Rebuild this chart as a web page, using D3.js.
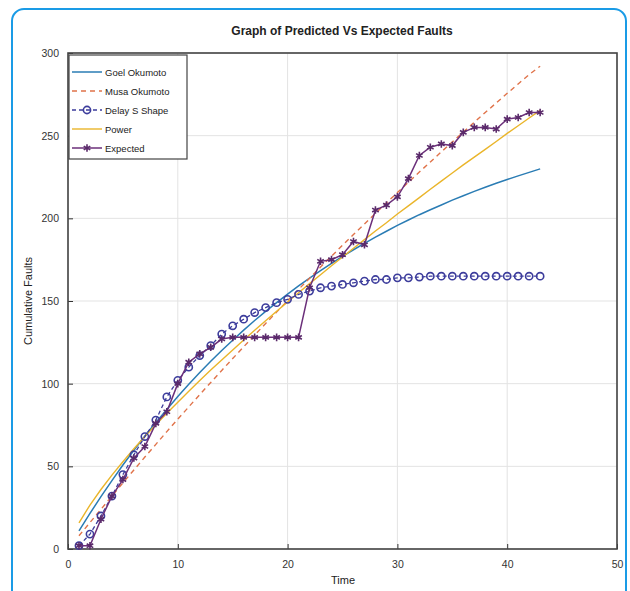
<!DOCTYPE html>
<html><head><meta charset="utf-8">
<script src="https://cdn.jsdelivr.net/npm/d3@7"></script>
<style>
html,body{margin:0;padding:0;background:#fff;}
svg{display:block;font-family:"Liberation Sans",Arial,sans-serif;}
</style></head>
<body><svg id="c" width="630" height="591"></svg>
<script>
const time = d3.range(1, 44);
const goelOkumoto = [11.0,21.5,31.7,41.4,50.8,59.7,68.3,76.5,84.4,92.3,99.7,106.7,113.5,120.1,126.3,132.4,138.2,143.7,149.0,154.2,159.1,163.9,168.4,172.8,177.0,181.0,184.9,188.6,192.2,195.7,199.0,202.2,205.2,208.1,211.0,213.7,216.3,218.8,221.2,223.5,225.7,227.8,229.9];
const musaOkumoto = [8.0,16.0,24.0,32.0,40.0,47.8,55.6,63.3,71.0,78.5,86.0,93.4,100.7,108.0,115.2,122.3,129.4,136.4,143.3,150.2,157.0,163.8,170.5,177.1,183.7,190.2,196.6,203.0,209.3,215.6,221.8,228.0,234.1,240.2,246.2,252.2,258.1,264.0,269.8,275.6,281.3,287.0,292.0];
const delaySShape = [2,9,20,32,45,57,68,78,92,102,110,117,123,130,135,139,143,146,149,151,154,156,158,159,160,161,162,163,163,164,164,164.5,165,165,165,165,165,165,165,165,165,165,165];
const power = [15.8,26.6,36.0,44.7,52.8,60.6,68.0,75.2,82.1,88.8,95.4,101.9,108.2,114.3,120.4,126.4,132.3,138.1,143.8,149.4,155.0,160.5,165.9,171.3,176.6,181.9,187.1,192.3,197.3,202.6,207.5,212.5,217.6,222.5,227.4,232.3,237.0,241.7,246.5,251.4,256.0,260.7,265.3];
const expected = [2,2,18,32,42,55,62,76,83,100,113,118,122,127,128,128,128,128,128,128,128,158,174,175,178,186,184,205,208,213,224,238,243,245,244,252,255,255,254,260,261,264,264];
const xTicks = [0,10,20,30,40,50];
const yTicks = [0,50,100,150,200,250,300];
const seriesNames = ["Goel Okumoto","Musa Okumoto","Delay S Shape","Power","Expected"];

const svg = d3.select("#c");
svg.append("rect").attr("x",12).attr("y",9).attr("width",614).attr("height",600)
  .attr("rx",12).attr("fill","#fff").attr("stroke","#1a9be6").attr("stroke-width",2);

const L=68,R=617,T=53,B=549;
const x = d3.scaleLinear().domain([0,50]).range([L,R]);
const y = d3.scaleLinear().domain([0,300]).range([B,T]);

const g = svg.append("g");
g.selectAll(".vg").data(xTicks).enter().append("line")
  .attr("x1",d=>x(d)).attr("x2",d=>x(d)).attr("y1",T).attr("y2",B)
  .attr("stroke","#e3e3e3").attr("stroke-width",1);
g.selectAll(".hg").data(yTicks).enter().append("line")
  .attr("y1",d=>y(d)).attr("y2",d=>y(d)).attr("x1",L).attr("x2",R)
  .attr("stroke","#e3e3e3").attr("stroke-width",1);

const xAxis = d3.axisBottom(x).tickValues(xTicks).tickSize(-5).tickPadding(12);
const yAxis = d3.axisLeft(y).tickValues(yTicks).tickSize(-5).tickPadding(9);
const ax = svg.append("g").attr("transform",`translate(0,${B})`).call(xAxis);
const ay = svg.append("g").attr("transform",`translate(${L},0)`).call(yAxis);
[ax,ay].forEach(a=>{
  a.select(".domain").remove();
  a.selectAll("line").attr("stroke","#333");
  a.selectAll("text").attr("font-size",10.5).attr("fill","#333");
});
svg.append("rect").attr("x",L).attr("y",T).attr("width",R-L).attr("height",B-T)
  .attr("fill","none").attr("stroke","#444").attr("stroke-width",1.6);

const pts = arr => arr.map((v,i)=>[time[i],v]);
const line = d3.line().x(d=>x(d[0])).y(d=>y(d[1]));
const plot = svg.append("g");
plot.append("path").datum(pts(goelOkumoto)).attr("d",line).attr("fill","none")
  .attr("stroke","#2a7cb4").attr("stroke-width",1.5);
plot.append("path").datum(pts(musaOkumoto)).attr("d",line).attr("fill","none")
  .attr("stroke","#e0734a").attr("stroke-width",1.4).attr("stroke-dasharray","5,4");
plot.append("path").datum(pts(power)).attr("d",line).attr("fill","none")
  .attr("stroke","#eab52a").attr("stroke-width",1.4);
plot.append("path").datum(pts(delaySShape)).attr("d",line).attr("fill","none")
  .attr("stroke","#3d3d9c").attr("stroke-width",1.3).attr("stroke-dasharray","4,3");
plot.selectAll(".ds").data(pts(delaySShape)).enter().append("circle")
  .attr("cx",d=>x(d[0])).attr("cy",d=>y(d[1])).attr("r",3.6)
  .attr("fill","none").attr("stroke","#3d3d9c").attr("stroke-width",1.6);
plot.append("path").datum(pts(expected)).attr("d",line).attr("fill","none")
  .attr("stroke","#6b2f7a").attr("stroke-width",1.5);
const star = d3.symbol().type(d3.symbolAsterisk).size(40);
plot.selectAll(".ex").data(pts(expected)).enter().append("path")
  .attr("d",star).attr("transform",d=>`translate(${x(d[0])},${y(d[1])})`)
  .attr("fill","none").attr("stroke","#5a2a6a").attr("stroke-width",1.6);

const lg = svg.append("g");
lg.append("rect").attr("x",L+1).attr("y",T+2).attr("width",118).attr("height",104)
  .attr("fill","#fff").attr("stroke","#444").attr("stroke-width",1.2);
const ly = [72,91,110,129,148];
const lx1=L+4, lx2=L+34, tx=L+37;
lg.append("line").attr("x1",lx1).attr("x2",lx2).attr("y1",ly[0]).attr("y2",ly[0]).attr("stroke","#2a7cb4").attr("stroke-width",1.5);
lg.append("line").attr("x1",lx1).attr("x2",lx2).attr("y1",ly[1]).attr("y2",ly[1]).attr("stroke","#e0734a").attr("stroke-width",1.4).attr("stroke-dasharray","5,4");
lg.append("line").attr("x1",lx1).attr("x2",lx2).attr("y1",ly[2]).attr("y2",ly[2]).attr("stroke","#3d3d9c").attr("stroke-width",1.3).attr("stroke-dasharray","4,3");
lg.append("circle").attr("cx",(lx1+lx2)/2).attr("cy",ly[2]).attr("r",3.6).attr("fill","none").attr("stroke","#3d3d9c").attr("stroke-width",1.6);
lg.append("line").attr("x1",lx1).attr("x2",lx2).attr("y1",ly[3]).attr("y2",ly[3]).attr("stroke","#eab52a").attr("stroke-width",1.4);
lg.append("line").attr("x1",lx1).attr("x2",lx2).attr("y1",ly[4]).attr("y2",ly[4]).attr("stroke","#6b2f7a").attr("stroke-width",1.5);
lg.append("path").attr("d",star).attr("transform",`translate(${(lx1+lx2)/2},${ly[4]})`).attr("fill","none").attr("stroke","#5a2a6a").attr("stroke-width",1.6);
lg.selectAll("text.l").data(seriesNames).enter().append("text")
  .attr("x",tx).attr("y",(d,i)=>ly[i]+3.5).attr("font-size",9.5).attr("fill","#222").text(d=>d);

svg.append("text").attr("x",342).attr("y",35).attr("text-anchor","middle")
  .attr("font-size",12).attr("font-weight","bold").attr("fill","#222").text("Graph of Predicted Vs Expected Faults");
svg.append("text").attr("x",343).attr("y",584).attr("text-anchor","middle")
  .attr("font-size",11).attr("fill","#222").text("Time");
svg.append("text").attr("transform","translate(32,301) rotate(-90)").attr("text-anchor","middle")
  .attr("font-size",11).attr("fill","#222").text("Cumulative Faults");
</script></body></html>
